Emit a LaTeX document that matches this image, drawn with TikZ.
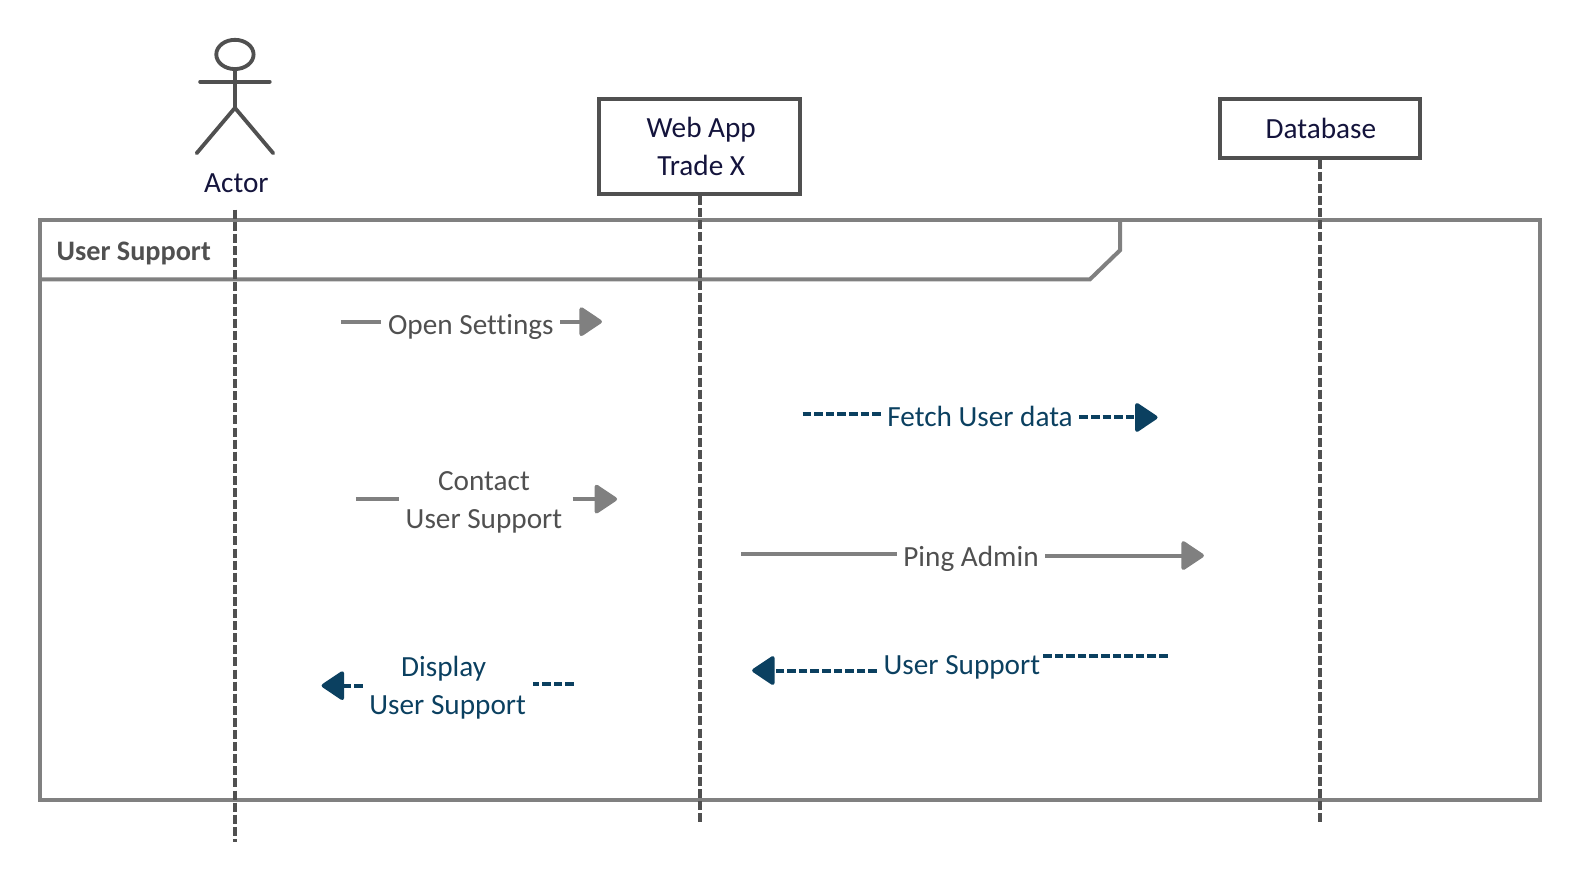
\documentclass[tikz,border=0pt]{standalone}
\usepackage{fontspec}
\setmainfont[Ligatures=NoCommon]{Carlito}
\usetikzlibrary{arrows.meta,shapes.geometric}
\definecolor{framegrey}{HTML}{808080}
\definecolor{darkline}{HTML}{505050}
\definecolor{ink}{HTML}{14143C}
\definecolor{msgtext}{HTML}{505050}
\definecolor{replyblue}{HTML}{0B4060}
\tikzset{
  lbl/.style={font=\fontsize{29}{38}\selectfont,align=center,inner xsep=6.5pt,inner ysep=0pt},
  box/.style={draw=darkline,line width=4pt,fill=white,inner sep=0pt},
  actorline/.style={draw=darkline,line width=3.8pt,line cap=round},
  lifeline/.style={draw=darkline,line width=3.8pt,dash pattern=on 9pt off 3pt},
  framel/.style={draw=framegrey,line width=4pt},
  msg/.style={draw=framegrey,line width=4pt},
  msghead/.style={msg,-{Triangle[length=24pt,width=31pt,round]}},
  rep/.style={draw=replyblue,line width=4pt,dash pattern=on 8.5pt off 3pt},
  rephead/.style={rep,-{Triangle[length=24pt,width=31pt,round,fill=replyblue,sep=0pt]}},
}
\begin{document}
\begin{tikzpicture}[x=1pt,y=-1pt]
\useasboundingbox (0,0) rectangle (1568,873);
% frame
\draw[framel] (40,218) rectangle (1527,793.5);
\draw[framel] (40,277) -- (1081,277) -- (1111,248) -- (1111,218);
\node[lbl,anchor=west,inner xsep=0pt,text=msgtext,font=\fontsize{28}{38}\selectfont] (title) at (56,251) {\bfseries User Support};
% participants
\node[ellipse,draw=darkline,line width=3.8pt,minimum width=37pt,minimum height=29pt,inner sep=0pt] (head) at (233,54) {};
\coordinate (hip) at (233,107);
\coordinate (armL) at (198.5,81);
\coordinate (armR) at (267.5,81);
\coordinate (footL) at (195,152);
\coordinate (footR) at (271,152);
\draw[actorline] (head.south) -- (hip);
\draw[actorline] (armL) -- (armR);
\draw[actorline] (footL) -- (hip) -- (footR);
\node[lbl,text=ink] (actor) at (234.5,182) {Actor};
\node[box,text=ink,minimum width=199pt,minimum height=94pt,font=\fontsize{29}{38}\selectfont,align=center] (web) at (694,145.5) {\hspace{3pt}Web App\\\hspace{3pt}Trade X};
\node[box,text=ink,minimum width=199pt,minimum height=58pt,font=\fontsize{29}{38}\selectfont] (db) at (1309,127.5) {\hspace{2pt}Database};
% lifelines
\coordinate (a0) at (233,208); \coordinate (a1) at (233,835);
\coordinate (w1) at (694,815);
\coordinate (d1) at (1309,815);
\draw[lifeline] (a0) -- (a1);
\draw[lifeline] (web.south -| w1) -- (w1);
\draw[lifeline] (db.south -| d1) -- (d1);
% messages
\node[lbl,text=msgtext] (m1) at (467,324) {Open Settings};
\coordinate (m1a) at (338,319); \coordinate (m1b) at (597,319);
\draw[msg] (m1a) -- (m1a -| m1.west);
\draw[msghead] (m1b -| m1.east) -- (m1b);

\node[lbl,text=replyblue] (m2) at (972,413) {Fetch User data};
\coordinate (m2a) at (796,411); \coordinate (m2b) at (1148,414);
\draw[rep] (m2a) -- (m2a -| m2.west);
\draw[rephead] (m2b -| m2.east) -- (m2b);

\node[lbl,text=msgtext] (m3) at (480,498) {Contact\\User Support};
\coordinate (m3a) at (353,495); \coordinate (m3b) at (612,495); \coordinate (m3c) at (568,495);
\draw[msg] (m3a) -- (m3a -| m3.west);
\draw[msghead] (m3c) -- (m3b);

\node[lbl,text=msgtext] (m4) at (963,554) {Ping Admin};
\coordinate (m4a) at (735,549.5); \coordinate (m4b) at (1194,551);
\draw[msg] (m4a) -- (m4a -| m4.west);
\draw[msghead] (m4b -| m4.east) -- (m4b);

\node[lbl,text=replyblue] (m5) at (954,662) {User Support};
\coordinate (m5a) at (1158,651); \coordinate (m5b) at (746,665);
\coordinate (m5c) at ([xshift=-4pt]m5.east);
\draw[rep] (m5a) -- (m5a -| m5c);
\draw[rephead] (m5b -| m5.west) -- (m5b);

\node[lbl,text=replyblue] (m6) at (444,682) {Display\kern8pt\\User Support};
\coordinate (m6a) at (569,678); \coordinate (m6b) at (319,680);
\draw[rep] (m6a) -- (m6a -| m6.east);
\draw[rephead] (m6b -| m6.west) -- (m6b);
\end{tikzpicture}
\end{document}
